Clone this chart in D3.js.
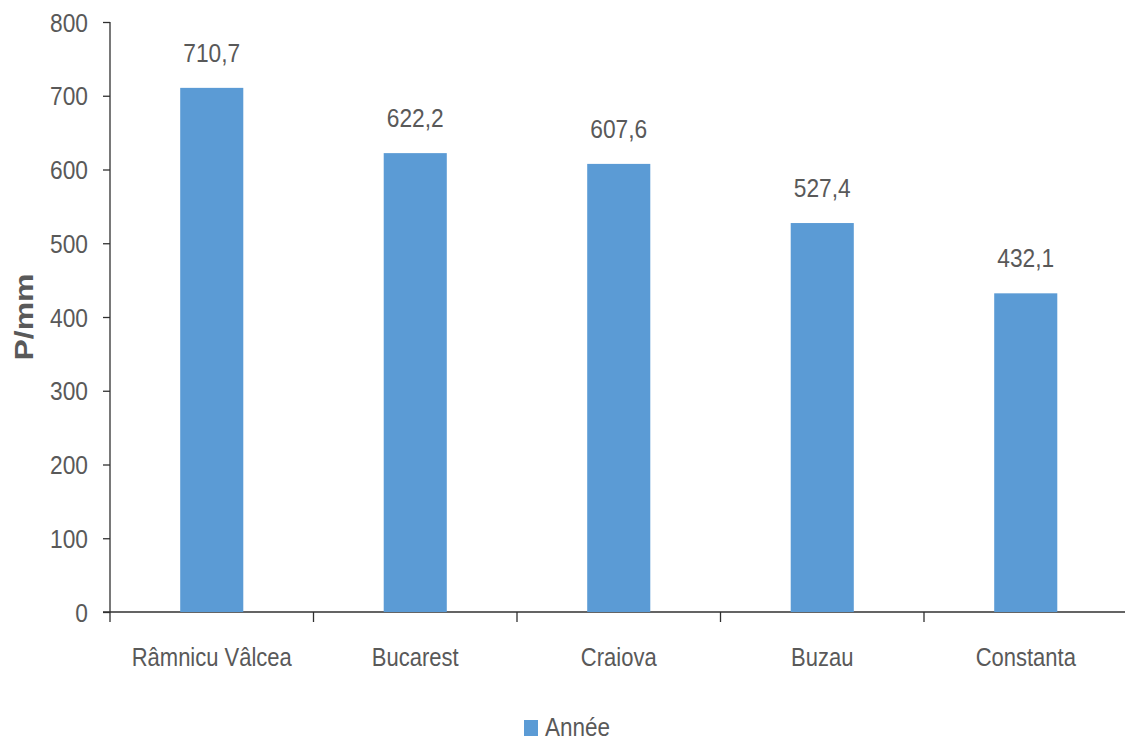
<!DOCTYPE html>
<html>
<head>
<meta charset="utf-8">
<script src="https://cdn.jsdelivr.net/npm/d3@7"></script>
<style>
  html, body { margin: 0; padding: 0; background: #fff; }
  svg text { font-family: "Liberation Sans", Arial, sans-serif; fill: #595959; }
</style>
</head>
<body>
<svg id="chart" width="1125" height="743"></svg>
<script>
// Annual precipitation (mm) by station
const stations = ["Râmnicu Vâlcea", "Bucarest", "Craiova", "Buzau", "Constanta"];
const precipitation = [710.7, 622.2, 607.6, 527.4, 432.1];
const yTicks = [0, 100, 200, 300, 400, 500, 600, 700, 800];
const seriesName = "Année";
const yTitle = "P/mm";

const svg = d3.select("#chart");
const plotLeft = 110, plotRight = 1127.5, plotTop = 22, plotBottom = 612;
const barColor = "#5B9BD5";
const axisColor = "#303030";

// Narrow the text horizontally around its anchor point
function condense(sel, sx) {
  sel.each(function () {
    const t = d3.select(this);
    const px = +t.attr("x") || 0, py = +t.attr("y") || 0;
    t.attr("x", 0).attr("y", 0).attr("transform", `translate(${px},${py}) scale(${sx},1)`);
  });
}

const x = d3.scaleBand().domain(stations).range([plotLeft, plotRight]).paddingInner(0.69).paddingOuter(0.345);
const xTicks = d3.scaleBand().domain(stations).range([plotLeft, plotRight]);
const y = d3.scaleLinear().domain([0, 800]).range([plotBottom, plotTop]);

// Y axis
const yAxis = svg.append("g").attr("transform", `translate(${plotLeft},0)`)
  .call(d3.axisLeft(y).tickValues(yTicks).tickSize(7).tickPadding(15).tickFormat(d3.format("d")));
yAxis.selectAll("path, line").attr("stroke", axisColor).attr("stroke-width", 1.3);
yAxis.select(".domain").attr("d", `M0,${plotTop}V${plotBottom}`);
yAxis.selectAll("text").attr("dy", null).attr("y", 9).style("font-size", "25px").attr("fill", "#595959")
  .call(condense, 0.91);

// X axis: baseline with tick marks between categories
const xg = svg.append("g");
xg.append("line").attr("x1", plotLeft - 7).attr("x2", 1125).attr("y1", plotBottom).attr("y2", plotBottom)
  .attr("stroke", axisColor).attr("stroke-width", 1.3);
const boundaries = stations.map(s => xTicks(s));
xg.selectAll("line.tick").data(boundaries).join("line")
  .attr("class", "tick")
  .attr("x1", d => d).attr("x2", d => d)
  .attr("y1", plotBottom).attr("y2", plotBottom + 10)
  .attr("stroke", axisColor).attr("stroke-width", 1.3);
xg.selectAll("text").data(stations).join("text")
  .attr("x", d => xTicks(d) + xTicks.bandwidth() / 2)
  .attr("y", 666)
  .attr("text-anchor", "middle")
  .style("font-size", "25px")
  .text(d => d)
  .call(condense, 0.88);

// Bars
const data = stations.map((s, i) => ({ station: s, value: precipitation[i] }));
svg.append("g").selectAll("rect").data(data).join("rect")
  .attr("x", d => x(d.station))
  .attr("width", x.bandwidth())
  .attr("y", d => y(d.value))
  .attr("height", d => y(0) - y(d.value))
  .attr("fill", barColor);

// Value labels
svg.append("g").selectAll("text").data(data).join("text")
  .attr("x", d => x(d.station) + x.bandwidth() / 2)
  .attr("y", d => y(d.value) - 26)
  .attr("text-anchor", "middle")
  .style("font-size", "25px")
  .text(d => d3.format(".1f")(d.value).replace(".", ","))
  .call(condense, 0.91);

// Y axis title
svg.append("text")
  .attr("transform", `translate(33,${(plotTop + plotBottom) / 2}) rotate(-90) scale(1.28,1)`)
  .attr("text-anchor", "middle")
  .style("font-size", "25px")
  .style("font-weight", "bold")
  .text(yTitle);

// Legend
const lg = svg.append("g");
lg.append("rect").attr("x", 524).attr("y", 720).attr("width", 14).attr("height", 16).attr("fill", barColor);
lg.append("text").attr("x", 545).attr("y", 736).style("font-size", "25px").text(seriesName)
  .call(condense, 0.9);
</script>
</body>
</html>
